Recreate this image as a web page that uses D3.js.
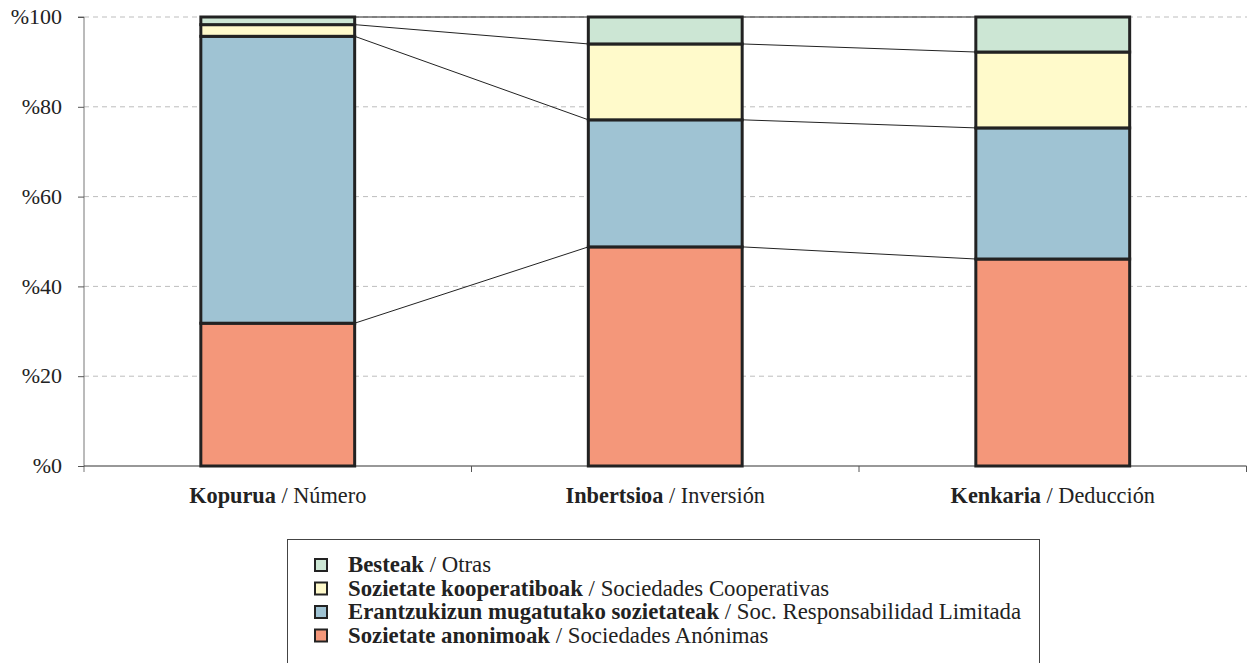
<!DOCTYPE html>
<html><head><meta charset="utf-8">
<script src="https://cdn.jsdelivr.net/npm/d3@7"></script>
<style>body{margin:0;background:#fff}</style>
</head><body><svg id="c" width="1247" height="663"></svg>
<script>
const categoriesBold = ["Kopurua", "Inbertsioa", "Kenkaria"];
const categoriesPlain = ["Número", "Inversión", "Deducción"];
const seriesBold = ["Sozietate anonimoak", "Erantzukizun mugatutako sozietateak", "Sozietate kooperatiboak", "Besteak"];
const seriesPlain = ["Sociedades Anónimas", "Soc. Responsabilidad Limitada", "Sociedades Cooperativas", "Otras"];
const seriesColors = ["#F4977A", "#9FC3D3", "#FFFACB", "#CCE6D4"];
const sociedadesAnonimas = [31.8, 48.8, 46.1];
const responsabilidadLimitada = [63.9, 28.3, 29.2];
const cooperativas = [2.6, 16.9, 16.9];
const otras = [1.7, 6.0, 7.8];
const yTicks = [0, 20, 40, 60, 80, 100];

const FONT = "Liberation Serif";
const svg = d3.select("#c");
const m = {l: 84, r: 0.5};
const W = 1247;
const y = d3.scaleLinear().domain([0, 100]).range([466, 17]);

// gridlines
svg.append("g").selectAll("line").data(yTicks.filter(d => d > 0)).join("line")
  .attr("x1", m.l).attr("x2", W).attr("y1", d => y(d)).attr("y2", d => y(d))
  .attr("stroke", "#bdbdbd").attr("stroke-dasharray", "5,4").attr("stroke-width", 1);

// y axis
const yAxis = svg.append("g").attr("transform", `translate(${m.l},0)`)
  .call(d3.axisLeft(y).tickValues(yTicks).tickSize(6).tickFormat(d => "%" + d));
yAxis.attr("font-family", FONT);
yAxis.select(".domain").attr("stroke", "#777").attr("d", `M-6,${y(100)}H0V${y(0) + 6}`);
yAxis.selectAll(".tick line").attr("stroke", "#555");
yAxis.selectAll("text").attr("font-size", 22).attr("fill", "#222").attr("x", -22).attr("dy", "0.3em");

// x axis
const x = d3.scaleBand().domain(d3.range(3)).range([m.l, W - m.r]);
const bandEdges = [0, 1, 2].map(i => x(i)).concat([x(2) + x.bandwidth()]);
svg.append("line").attr("x1", m.l).attr("x2", bandEdges[3]).attr("y1", y(0)).attr("y2", y(0)).attr("stroke", "#333").attr("stroke-width", 1.2);
svg.append("g").selectAll("line").data(bandEdges.slice(1)).join("line")
  .attr("x1", d => d).attr("x2", d => d).attr("y1", y(0)).attr("y2", y(0) + 6).attr("stroke", "#555");

const cx = i => x(i) + x.bandwidth() / 2;
const xl = svg.append("g").attr("font-family", FONT).selectAll("text").data(d3.range(3)).join("text")
  .attr("x", cx).attr("y", 503).attr("text-anchor", "middle").attr("font-size", 22.3).attr("fill", "#222");
xl.append("tspan").attr("font-weight", "bold").text(i => categoriesBold[i]);
xl.append("tspan").text(i => " / " + categoriesPlain[i]);

// stacks
const series = [sociedadesAnonimas, responsabilidadLimitada, cooperativas, otras];
const rows = d3.range(3).map(i => { const o = {i}; series.forEach((s, k) => o[k] = s[i]); return o; });
const stack = d3.stack().keys(d3.range(4))(rows);
const bw = x.bandwidth() * 0.397;
const bx = i => cx(i) - bw / 2;

// connector lines
const conn = [];
stack.forEach(layer => {
  for (let i = 0; i < 2; i++) conn.push({x1: bx(i) + bw, y1: y(layer[i][1]), x2: bx(i + 1), y2: y(layer[i + 1][1])});
});
svg.append("g").selectAll("line").data(conn).join("line")
  .attr("x1", d => d.x1).attr("y1", d => d.y1).attr("x2", d => d.x2).attr("y2", d => d.y2)
  .attr("stroke", "#222").attr("stroke-width", 1);

svg.append("g").selectAll("g").data(stack).join("g").attr("fill", (d, k) => seriesColors[k])
  .selectAll("rect").data(d => d).join("rect")
  .attr("x", (d, i) => bx(i)).attr("width", bw)
  .attr("y", d => y(d[1])).attr("height", d => y(d[0]) - y(d[1]))
  .attr("stroke", "#222").attr("stroke-width", 3);

// legend
const lg = svg.append("g").attr("font-family", FONT);
lg.append("rect").attr("x", 287.5).attr("y", 539.5).attr("width", 752).attr("height", 140)
  .attr("fill", "#fff").attr("stroke", "#444").attr("stroke-width", 1);
const order = [3, 2, 1, 0];
const li = lg.selectAll("g.li").data(order).join("g").attr("class", "li")
  .attr("transform", (k, j) => `translate(0,${565.5 + j * 23.5})`);
li.append("rect").attr("x", 315).attr("y", -6.5).attr("width", 12).attr("height", 12)
  .attr("fill", k => seriesColors[k]).attr("stroke", "#222").attr("stroke-width", 2);
const lt = li.append("text").attr("x", 348).attr("y", 6.5).attr("font-size", 22.8).attr("fill", "#222");
lt.append("tspan").attr("font-weight", "bold").text(k => seriesBold[k]);
lt.append("tspan").text(k => " / " + seriesPlain[k]);
</script></body></html>
